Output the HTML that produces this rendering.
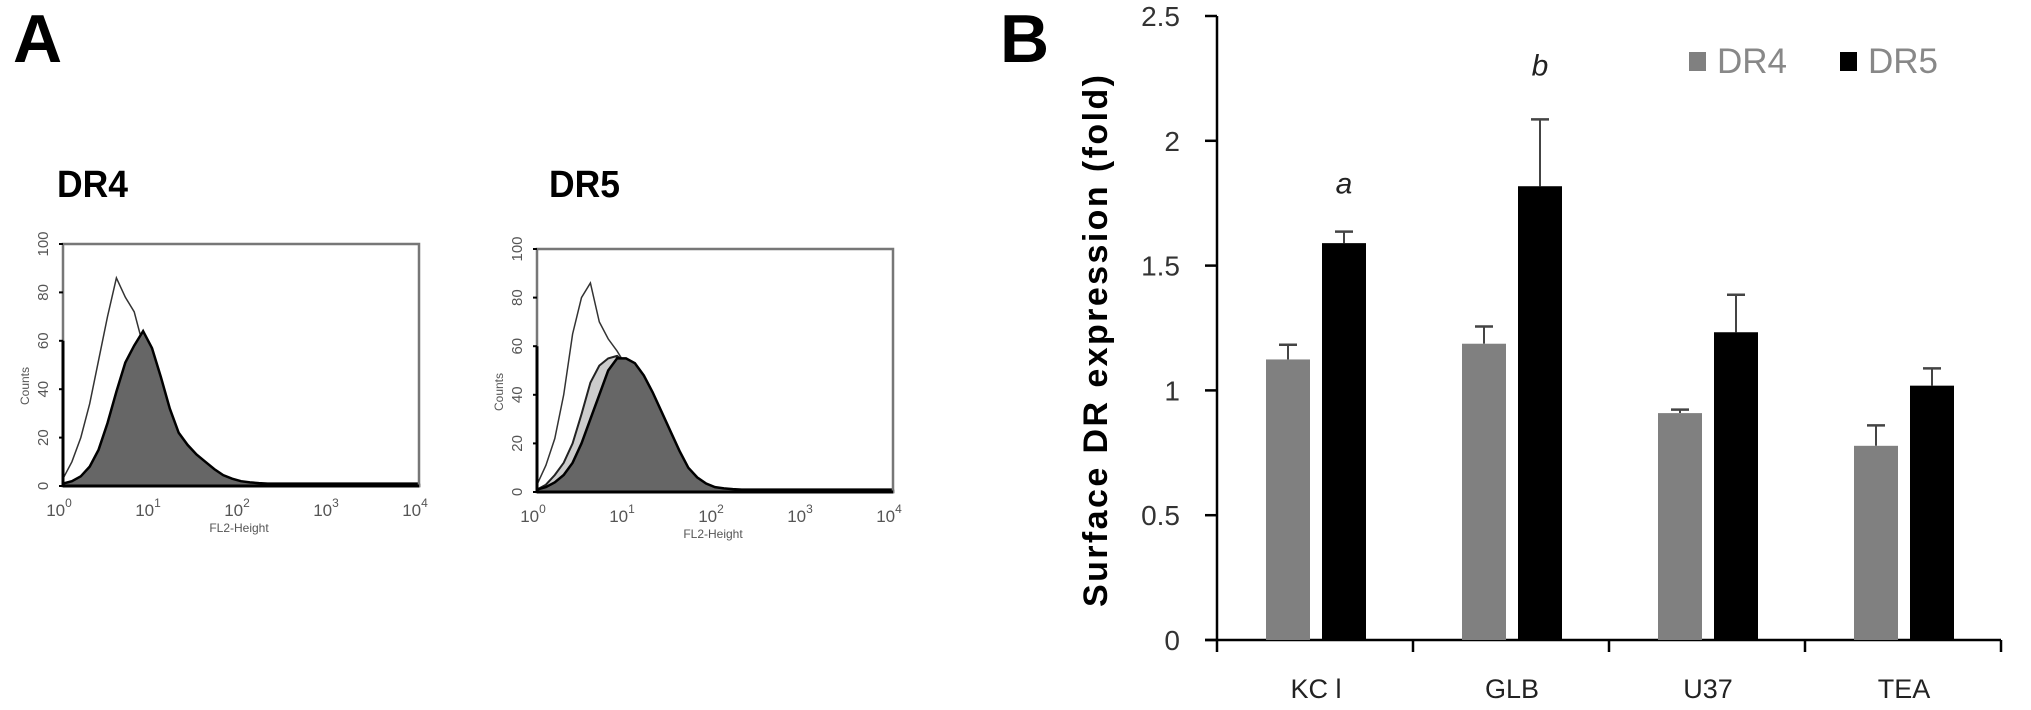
<!DOCTYPE html>
<html><head><meta charset="utf-8"><style>
html,body{margin:0;padding:0;background:#fff;}
svg{display:block;font-family:"Liberation Sans",Arial,sans-serif;}
</style></head><body>
<svg id="fig" width="2031" height="710" viewBox="0 0 2031 710" xmlns="http://www.w3.org/2000/svg">
<text x="13" y="62" font-size="68" font-weight="bold">A</text>
<text x="1000" y="62" font-size="68" font-weight="bold">B</text>
<text x="57" y="197" font-size="38" font-weight="bold" textLength="71" lengthAdjust="spacingAndGlyphs">DR4</text>
<text x="549" y="197" font-size="38" font-weight="bold" textLength="71" lengthAdjust="spacingAndGlyphs">DR5</text>
<g id="histA"></g>
<g id="histB"></g>
<g id="bars"></g>
</svg>
<script>
// ---- Histogram data (counts at log10 positions 0,0.1,0.2,...) ----
const histLogStep = 0.1;
const dr4Control = [3,10,20,34,52,70,86,78,72,58,40,26,17,11,7,5,3.5,2.5,2,1.5,1.2,1,1,1,1,1,1,1,1,1,1,1,1,1,1,1,1,1,1,1,1];
const dr4Stained = [1,2,4,8,15,26,39,51,58,64,57,45,32,22,17,13,10,7,4.5,3,2,1.5,1.2,1,1,1,1,1,1,1,1,1,1,1,1,1,1,1,1,1,1];
const dr5Control = [3,11,22,40,65,80,86,70,63,58,52,45,35,25,15,8,4,2.5,1.5,1.2,1,1,1,1,1,1,1,1,1,1,1,1,1,1,1,1,1,1,1,1,1];
const dr5Light   = [1,3,7,12,20,32,45,52,55,56,53,48,40,30,20,12,6,3,2,1.5,1,1,1,1,1,1,1,1,1,1,1,1,1,1,1,1,1,1,1,1,1];
const dr5Stained = [1,2,4,7,12,20,30,40,50,55,55,53,48,41,33,25,17,10,6,3.5,2,1.5,1.2,1,1,1,1,1,1,1,1,1,1,1,1,1,1,1,1,1,1];
const histYTicks = [0,20,40,60,80,100];
const histXDecades = [0,1,2,3,4];

// ---- Bar chart data ----
const categories = ["KCl","GLB","U37","TEA"];
const dr4Values = [1.124,1.187,0.909,0.778];
const dr4Errors = [0.059,0.069,0.014,0.082];
const dr5Values = [1.59,1.818,1.233,1.019];
const dr5Errors = [0.046,0.268,0.15,0.069];
const annotations = ["a","b","",""];
const yTicks = [0,0.5,1,1.5,2,2.5];
const yTickLabels = ["0","0.5","1","1.5","2","2.5"];

const NS="http://www.w3.org/2000/svg";
function mk(tag,parent){const e=document.createElementNS(NS,tag);parent.appendChild(e);return e;}

function drawHist(gid, box, series){
  const g=document.getElementById(gid);
  const xs=v=>box.x0+(v/4)*(box.x1-box.x0);
  const ys=v=>box.y1-(v/100)*(box.y1-box.y0);
  series.forEach(s=>{
    let d="M"+xs(0)+","+ys(0);
    s.data.forEach((c,i)=>{d+=" L"+xs(i*histLogStep).toFixed(1)+","+ys(c).toFixed(1);});
    d+=" L"+xs(4)+","+ys(1)+" L"+xs(4)+","+ys(0)+" Z";
    const p=mk("path",g);
    
    
    p.setAttribute("d",d);p.setAttribute("fill",s.fill);p.setAttribute("stroke",s.stroke);p.setAttribute("stroke-width",s.sw);
  });
  const r=mk("rect",g);
  
  
  r.setAttribute("x",box.x0);r.setAttribute("y",box.y0);r.setAttribute("width",box.x1-box.x0);r.setAttribute("height",box.y1-box.y0);
  r.setAttribute("fill","none");r.setAttribute("stroke","#777");r.setAttribute("stroke-width","2.5");
  const ax=mk("line",g);
  
  
  ax.setAttribute("x1",box.x0);ax.setAttribute("x2",box.x1);ax.setAttribute("y1",box.y1);ax.setAttribute("y2",box.y1);ax.setAttribute("stroke","#000");ax.setAttribute("stroke-width","3");
  const ay=mk("line",g);
  
  
  ay.setAttribute("x1",box.x0);ay.setAttribute("x2",box.x0);ay.setAttribute("y1",box.y1);ay.setAttribute("y2",ys(60));ay.setAttribute("stroke","#000");ay.setAttribute("stroke-width","3");
  histYTicks.forEach(t=>{
    const tx=mk("text",g);
    
    
    tx.setAttribute("transform","translate("+(box.x0-15)+","+ys(t)+") rotate(-90)");
    tx.setAttribute("text-anchor","middle");tx.setAttribute("font-size","15");tx.setAttribute("fill","#555");tx.textContent=t;
    const tl=mk("line",g);
    
    
    tl.setAttribute("x1",box.x0-4);tl.setAttribute("x2",box.x0);tl.setAttribute("y1",ys(t));tl.setAttribute("y2",ys(t));tl.setAttribute("stroke","#000");tl.setAttribute("stroke-width","2");
  });
  histXDecades.forEach(dd=>{
    const tx=mk("text",g);
    
    
    tx.setAttribute("x",xs(dd)-4);tx.setAttribute("y",box.y1+30);tx.setAttribute("text-anchor","middle");tx.setAttribute("font-size","17");tx.setAttribute("fill","#555");
    tx.textContent="10";
    const sp=mk("tspan",tx);sp.setAttribute("dy","-9");sp.setAttribute("font-size","12");sp.textContent=dd;
  });
  const xl=mk("text",g);
  
  
  xl.setAttribute("x",box.x0+176);xl.setAttribute("y",box.y1+46);xl.setAttribute("text-anchor","middle");xl.setAttribute("font-size","12");xl.setAttribute("fill","#555");xl.textContent="FL2-Height";
  const yl=mk("text",g);
  
  
  yl.setAttribute("transform","translate("+(box.x0-34)+","+(box.y1-100)+") rotate(-90)");yl.setAttribute("text-anchor","middle");yl.setAttribute("font-size","12");yl.setAttribute("fill","#555");yl.textContent="Counts";
}
drawHist("histA",{x0:63,x1:419,y0:244,y1:486},[
  {name:"dr4-control-curve",data:dr4Control,fill:"#fff",stroke:"#333",sw:1.5},
  {name:"dr4-stained-curve",data:dr4Stained,fill:"#666",stroke:"#000",sw:2.5}
]);
drawHist("histB",{x0:537,x1:893,y0:249,y1:492},[
  {name:"dr5-control-curve",data:dr5Control,fill:"#fff",stroke:"#333",sw:1.5},
  {name:"dr5-intermediate-curve",data:dr5Light,fill:"#ccc",stroke:"#222",sw:2},
  {name:"dr5-stained-curve",data:dr5Stained,fill:"#666",stroke:"#000",sw:2.5}
]);

// ---- Bar chart ----
(function(){
  const g=document.getElementById("bars");
  const X0=1217, Y0=640, unit=249.6, catW=196;
  const y=v=>Y0-v*unit;
  const catX=i=>X0+i*catW;
  const ya=mk("line",g);
  
  
  ya.setAttribute("x1",X0);ya.setAttribute("x2",X0);ya.setAttribute("y1",y(2.5));ya.setAttribute("y2",Y0+12);ya.setAttribute("stroke","#000");ya.setAttribute("stroke-width","2.5");
  yTicks.forEach((t,i)=>{
    const tl=mk("line",g);
    
    
    tl.setAttribute("x1",X0-12);tl.setAttribute("x2",X0);tl.setAttribute("y1",y(t));tl.setAttribute("y2",y(t));tl.setAttribute("stroke","#000");tl.setAttribute("stroke-width","2.5");
    const tx=mk("text",g);
    
    
    tx.setAttribute("x",X0-37);tx.setAttribute("y",y(t)+10);tx.setAttribute("text-anchor","end");tx.setAttribute("font-size","28");tx.setAttribute("fill","#333");tx.textContent=yTickLabels[i];
  });
  const xa=mk("line",g);
  
  
  xa.setAttribute("x1",X0-12);xa.setAttribute("x2",catX(categories.length));xa.setAttribute("y1",Y0);xa.setAttribute("y2",Y0);xa.setAttribute("stroke","#000");xa.setAttribute("stroke-width","2.5");
  const yt=mk("text",g);
  
  
  yt.setAttribute("transform","translate(1107,341) rotate(-90)");yt.setAttribute("text-anchor","middle");yt.setAttribute("font-size","34");yt.setAttribute("font-weight","bold");
  yt.setAttribute("textLength","532");yt.setAttribute("lengthAdjust","spacing");yt.textContent="Surface DR  expression  (fold)";
  categories.forEach((c,i)=>{
    const tk=mk("line",g);
    
    
    tk.setAttribute("x1",catX(i+1));tk.setAttribute("x2",catX(i+1));tk.setAttribute("y1",Y0);tk.setAttribute("y2",Y0+12);tk.setAttribute("stroke","#000");tk.setAttribute("stroke-width","2.5");
    const lb=mk("text",g);
    
    
    lb.setAttribute("x",catX(i)+99);lb.setAttribute("y",Y0+58);lb.setAttribute("text-anchor","middle");lb.setAttribute("font-size","27");lb.setAttribute("fill","#222");
    lb.textContent=(c==="KCl"?"KC l":c);
    [[dr4Values,dr4Errors,49,"#808080","dr4"],[dr5Values,dr5Errors,105,"#000","dr5"]].forEach(s=>{
      const v=s[0][i], e=s[1][i], bx=catX(i)+s[2], bw=44;
      const el=mk("line",g);
      
      
      el.setAttribute("x1",bx+bw/2);el.setAttribute("x2",bx+bw/2);el.setAttribute("y1",y(v));el.setAttribute("y2",y(v+e));el.setAttribute("stroke","#444");el.setAttribute("stroke-width","2");
      const ec=mk("line",g);
      
      
      ec.setAttribute("x1",bx+bw/2-9);ec.setAttribute("x2",bx+bw/2+9);ec.setAttribute("y1",y(v+e));ec.setAttribute("y2",y(v+e));ec.setAttribute("stroke","#444");ec.setAttribute("stroke-width","2.5");
      const r=mk("rect",g);
      
      
      r.setAttribute("x",bx);r.setAttribute("y",y(v));r.setAttribute("width",bw);r.setAttribute("height",Y0-y(v));r.setAttribute("fill",s[3]);
    });
    if(annotations[i]){
      const a=mk("text",g);
      
      
      a.setAttribute("x",catX(i)+127);a.setAttribute("y",y(dr5Values[i]+dr5Errors[i])-(i===0?38:44));a.setAttribute("text-anchor","middle");a.setAttribute("font-size","30");a.setAttribute("font-style","italic");a.setAttribute("fill","#222");a.textContent=annotations[i];
    }
  });
  [["DR4","#808080",1689],["DR5","#000",1840]].forEach(l=>{
    const sq=mk("rect",g);
    
    
    sq.setAttribute("x",l[2]);sq.setAttribute("y",52);sq.setAttribute("width",17);sq.setAttribute("height",19);sq.setAttribute("fill",l[1]);
    const t=mk("text",g);
    
    
    t.setAttribute("x",l[2]+28);t.setAttribute("y",73);t.setAttribute("font-size","35");t.setAttribute("fill","#888");t.textContent=l[0];
  });
})();
</script>
</body></html>
